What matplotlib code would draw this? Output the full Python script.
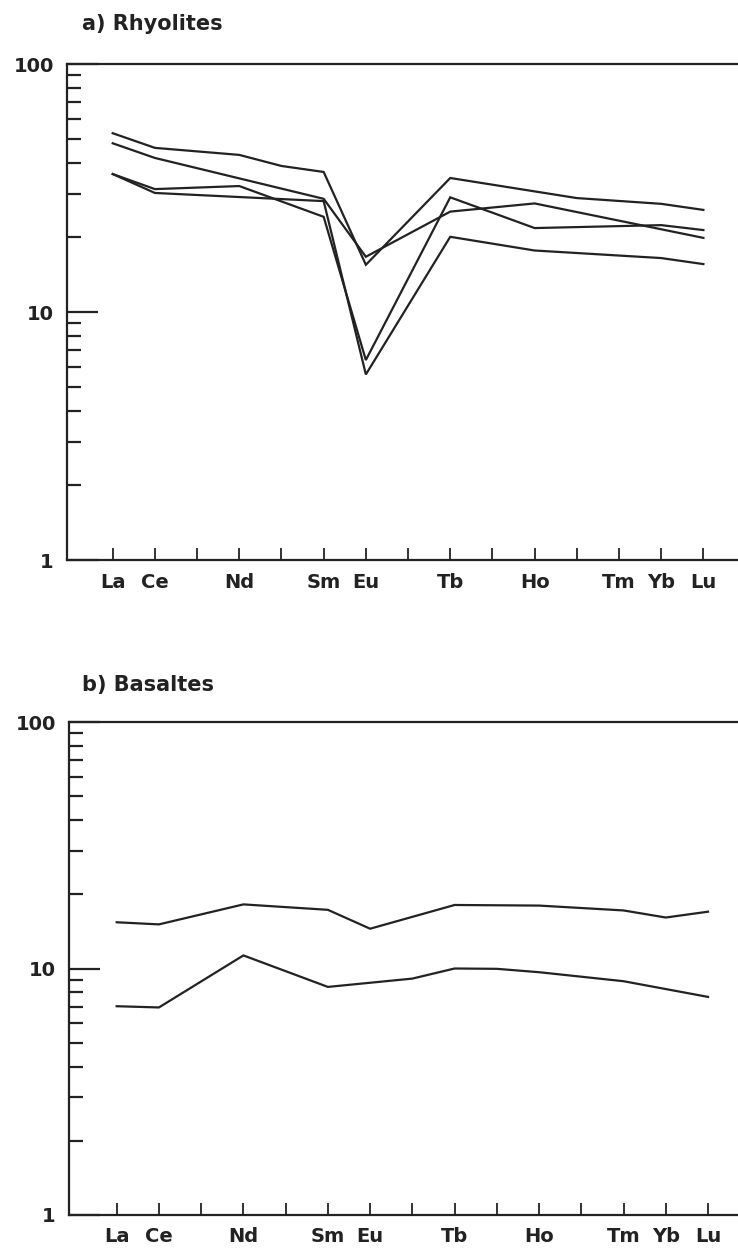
import matplotlib
matplotlib.use("Agg")
import matplotlib.pyplot as plt
from matplotlib.ticker import LogLocator, NullFormatter

plt.rcParams['font.family'] = ['DejaVu Sans']
plt.rcParams['font.weight'] = 'bold'

# rare earth sequence along the x axis, and the ones that get a label
ree = ['La', 'Ce', 'Pr', 'Nd', 'Pm', 'Sm', 'Eu', 'Gd', 'Tb', 'Dy', 'Ho', 'Er', 'Tm', 'Yb', 'Lu']
labelled = ['La', 'Ce', 'Nd', 'Sm', 'Eu', 'Tb', 'Ho', 'Tm', 'Yb', 'Lu']

# chondrite-normalised abundances, rhyolites
rhy_1 = {'La': 52.6, 'Ce': 45.9, 'Nd': 43.0, 'Pm': 38.8, 'Sm': 36.7, 'Eu': 15.5,
         'Tb': 34.7, 'Er': 28.8, 'Yb': 27.3, 'Lu': 25.8}
rhy_2 = {'La': 47.9, 'Ce': 41.8, 'Sm': 28.6, 'Eu': 16.7, 'Tb': 25.4, 'Ho': 27.4,
         'Lu': 19.9}
rhy_3 = {'La': 36.0, 'Ce': 31.3, 'Nd': 32.2, 'Sm': 24.2, 'Eu': 6.4, 'Tb': 29.0,
         'Ho': 21.8, 'Yb': 22.4, 'Lu': 21.4}
rhy_4 = {'La': 36.0, 'Ce': 30.2, 'Sm': 28.0, 'Eu': 5.6, 'Tb': 20.1, 'Ho': 17.7,
         'Yb': 16.5, 'Lu': 15.6}

# basalts
bas_1 = {'La': 15.4, 'Ce': 15.1, 'Nd': 18.2, 'Sm': 17.3, 'Eu': 14.5, 'Tb': 18.1,
         'Ho': 18.0, 'Tm': 17.2, 'Yb': 16.1, 'Lu': 17.0}
bas_2 = {'La': 7.03, 'Ce': 6.95, 'Nd': 11.3, 'Sm': 8.42, 'Gd': 9.1, 'Tb': 10.0,
         'Dy': 9.97, 'Ho': 9.66, 'Tm': 8.88, 'Lu': 7.67}

W, H = 738, 1252
fig = plt.figure(figsize=(W / 100, H / 100), dpi=100)


def ree_panel(rect, xlim, samples, title, title_y):
    ax = fig.add_axes(rect)
    for s in samples:
        xs = [ree.index(el) for el in s]
        ax.plot(xs, list(s.values()), color='#222222', lw=1.6, solid_joinstyle='miter')

    ax.set_yscale('log')
    ax.set_ylim(1, 100)
    ax.set_xlim(*xlim)
    ax.set_yticks([1, 10, 100])
    ax.set_yticklabels(['1', '10', '100'])
    ax.yaxis.set_minor_locator(LogLocator(base=10, subs=range(2, 10)))
    ax.yaxis.set_minor_formatter(NullFormatter())
    ax.set_xticks(range(len(ree)))
    ax.set_xticklabels([el if el in labelled else '' for el in ree])

    ax.tick_params(axis='x', which='major', direction='in', length=9, width=1.3,
                   pad=9, labelsize=14, colors='#222222')
    ax.tick_params(axis='y', which='major', direction='in', length=22, width=1.6,
                   pad=9.5, labelsize=14, colors='#222222')
    ax.tick_params(axis='y', which='minor', direction='in', length=10, width=1.6,
                   colors='#222222')
    ax.spines['right'].set_visible(False)
    for side in ('left', 'bottom', 'top'):
        ax.spines[side].set_linewidth(1.6)
        ax.spines[side].set_color('#222222')

    fig.text(82 / W, 1 - title_y / H, title, ha='left', va='center',
             fontsize=15, fontweight='bold', color='#222222')
    return ax


ree_panel([67 / W, 1 - 560 / H, (W - 67) / W, 496 / H], (-1.083, 14.82),
          [rhy_1, rhy_2, rhy_3, rhy_4], 'a) Rhyolites', 24)
ree_panel([69 / W, 1 - 1215 / H, (W - 69) / W, 493 / H], (-1.129, 14.71),
          [bas_1, bas_2], 'b) Basaltes', 685)

fig.savefig('out.png', dpi=100, facecolor='white')
